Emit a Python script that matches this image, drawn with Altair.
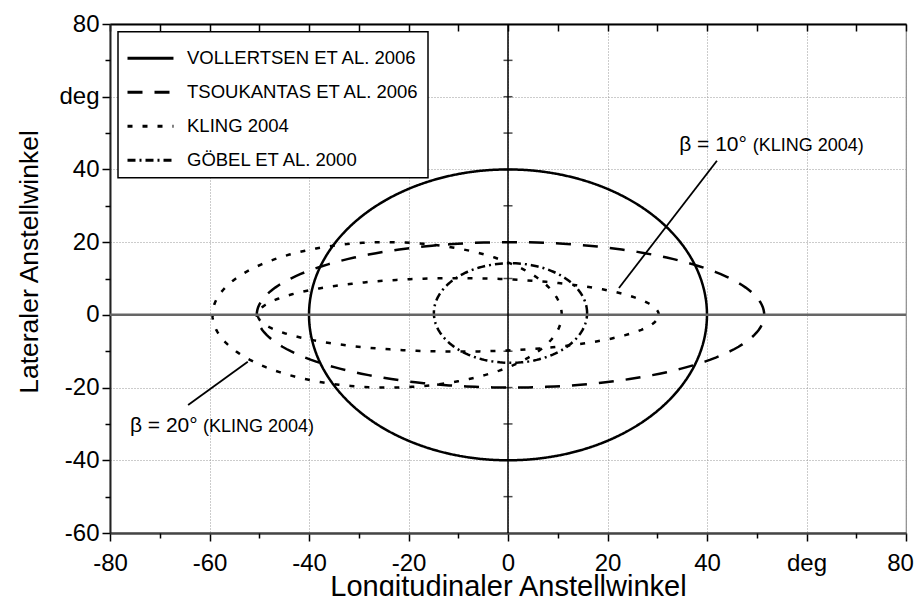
import altair as alt
import pandas as pd

FONT = "Liberation Sans"

# ---- ellipse parameters ----
curve_ids = ["vollertsen", "tsoukantas", "kling_b20", "kling_b10", "goebel"]
curve_series = ["VOLLERTSEN ET AL. 2006", "TSOUKANTAS ET AL. 2006",
                "KLING 2004", "KLING 2004", "GÖBEL ET AL. 2000"]
center_x = [0.0, 0.5, -24.3, -10.0, 0.5]
center_y = [0.0, 0.0, 0.0, 0.0, 0.5]
semi_x = [40.0, 51.0, 35.1, 40.3, 15.4]
semi_y = [40.0, 20.0, 20.0, 10.1, 13.7]

series_order = ["VOLLERTSEN ET AL. 2006", "TSOUKANTAS ET AL. 2006",
                "KLING 2004", "GÖBEL ET AL. 2000"]
dash_styles = [[1, 0], [15, 12], [5, 10], [8, 4, 2, 4]]

# ---- ticks ----
x_major = [-80, -60, -40, -20, 0, 20, 40, 60, 80]
y_major = [-60, -40, -20, 0, 20, 40, 60, 80]
x_minor = [-70, -50, -30, -10, 10, 30, 50, 70]
y_minor = [-50, -30, -10, 10, 30, 50, 70]
x_top_ticks = [-80, -70, -60, -50, -40, -30, -20, -10, 0, 10, 20, 30, 40, 50, 60, 70, 80]
center_cross_y = [-50, -40, -30, -20, -10, 10, 20, 30, 40, 50, 60, 70]

# ---- annotations ----
ann_big_text = ["β = 10°", "β = 20°"]
ann_small_text = ["(KLING 2004)", "(KLING 2004)"]
ann_big_x = [34.4, -76.0]
ann_small_x = [49.2, -61.3]
ann_y = [45.2, -32.2]
pointer_x = [42.0, -52.3]
pointer_y = [42.4, -12.9]
pointer_x2 = [22.3, -64.3]
pointer_y2 = [7.4, -24.8]

angles = list(range(0, 361, 2))

rows = []
for cid, s, cx, cy, a, b in zip(curve_ids, curve_series, center_x, center_y, semi_x, semi_y):
    for t in angles:
        rows.append({"curve": cid, "series": s, "cx": cx, "cy": cy, "rx": a, "ry": b, "t": t})
ell_df = pd.DataFrame(rows)

W, H = 796, 509
xs = alt.Scale(domain=[-80, 80], nice=False, zero=False)
ys = alt.Scale(domain=[-60, 80], nice=False, zero=False)

x_main = alt.Axis(orient="bottom", values=x_major,
                  labelExpr="datum.value == 60 ? 'deg' : '' + datum.value",
                  labelFlush=False, labelOverlap=False, labelFont=FONT, labelFontSize=24,
                  labelColor="black", labelPadding=10.5,
                  labelOffset={"condition": {"test": "datum.value == 80", "value": -6}, "value": 0},
                  tickSize=8, tickWidth=1.5, tickColor="black",
                  domainColor="#444", domainWidth=2.5,
                  grid=True, gridDash=[1, 2], gridColor="#999", gridWidth=1,
                  title="Longitudinaler Anstellwinkel", titleFont=FONT, titleFontSize=29,
                  titleFontWeight="normal", titleColor="black",
                  titleY=62.5, titleBaseline="alphabetic")
y_main = alt.Axis(orient="left", values=y_major,
                  labelExpr="datum.value == 60 ? 'deg' : '' + datum.value",
                  labelFlush=False, labelOverlap=False, labelFont=FONT, labelFontSize=24,
                  labelColor="black", labelPadding=3,
                  tickSize=8, tickWidth=1.5, tickColor="black",
                  domainColor="#222", domainWidth=2,
                  grid=True, gridDash=[1, 2], gridColor="#999", gridWidth=1,
                  title="Lateraler Anstellwinkel", titleFont=FONT, titleFontSize=26.5,
                  titleFontWeight="normal", titleColor="black",
                  titleX=-73, titleY=237.5, titleAngle=270, titleAlign="center",
                  titleBaseline="alphabetic")
x_minor_axis = alt.Axis(orient="bottom", values=x_minor, labels=False, tickSize=5,
                        tickWidth=1.5, tickColor="black", domain=False, grid=False, title=None)
y_minor_axis = alt.Axis(orient="left", values=y_minor, labels=False, tickSize=5,
                        tickWidth=1.5, tickColor="black", domain=False, grid=False, title=None)
x_top_axis = alt.Axis(orient="bottom", offset=-H, values=x_top_ticks, labels=False, tickSize=7,
                      tickWidth=1.5, tickColor="black", domainColor="black", domainWidth=2,
                      grid=False, title=None)

legend = alt.Legend(title=" ", titleFontSize=2, titlePadding=4,
                    orient="none", legendX=8, legendY=7.7,
                    symbolType="M-1,0L3.18,0", symbolSize=484, symbolStrokeWidth=3,
                    symbolStrokeColor="black", symbolFillColor="transparent",
                    labelFont=FONT, labelFontSize=18.5, labelColor="black",
                    labelOffset=36, labelLimit=400, rowPadding=12, padding=8,
                    fillColor="white", strokeColor="black", cornerRadius=0)

ellipses = alt.Chart(ell_df).transform_calculate(
    px="datum.cx + datum.rx * cos(datum.t * PI / 180)",
    py="datum.cy + datum.ry * sin(datum.t * PI / 180)",
).mark_line(color="black", strokeWidth=2.5).encode(
    x=alt.X("px:Q", scale=xs, axis=x_main),
    y=alt.Y("py:Q", scale=ys, axis=y_main),
    strokeDash=alt.StrokeDash("series:N", scale=alt.Scale(domain=series_order, range=dash_styles),
                              legend=legend),
    detail="curve:N",
    order="t:Q",
)

hline = alt.Chart(pd.DataFrame({"v": [0]})).mark_rule(stroke="#666", strokeWidth=2.5).encode(
    y=alt.Y("v:Q", scale=ys, axis=y_minor_axis))
vline = alt.Chart(pd.DataFrame({"v": [0]})).mark_rule(stroke="black", strokeWidth=1.5).encode(
    x=alt.X("v:Q", scale=xs, axis=x_minor_axis))

cross = alt.Chart(pd.DataFrame({"cx": [0] * len(center_cross_y), "cy": center_cross_y})).mark_tick(
    orient="horizontal", size=9, thickness=1.5, color="black").encode(
    x=alt.X("cx:Q", scale=xs, axis=x_top_axis),
    y=alt.Y("cy:Q", scale=ys, axis=None))

ptr_df = pd.DataFrame({"x": pointer_x, "y": pointer_y, "x2": pointer_x2, "y2": pointer_y2})
pointers = alt.Chart(ptr_df).mark_rule(color="black", strokeWidth=1.8).encode(
    x=alt.X("x:Q", scale=xs, axis=None), y=alt.Y("y:Q", scale=ys, axis=None),
    x2="x2:Q", y2="y2:Q")

big_df = pd.DataFrame({"x": ann_big_x, "y": ann_y, "t": ann_big_text})
small_df = pd.DataFrame({"x": ann_small_x, "y": ann_y, "t": ann_small_text})
big_txt = alt.Chart(big_df).mark_text(align="left", baseline="alphabetic", font=FONT,
                                      fontSize=21, color="black").encode(
    x=alt.X("x:Q", scale=xs, axis=None), y=alt.Y("y:Q", scale=ys, axis=None), text="t:N")
small_txt = alt.Chart(small_df).mark_text(align="left", baseline="alphabetic", font=FONT,
                                          fontSize=18, color="black").encode(
    x=alt.X("x:Q", scale=xs, axis=None), y=alt.Y("y:Q", scale=ys, axis=None), text="t:N")

chart = alt.layer(ellipses, hline, vline, cross, pointers, big_txt, small_txt).resolve_axis(
    x="independent", y="independent"
).properties(
    width=W, height=H, autosize="none",
    padding={"left": 102, "top": 16, "right": 8, "bottom": 63},
).configure_view(stroke="#888", strokeWidth=1.2).configure_legend(strokeWidth=1.5)

chart.save("out.html", embed_options={"renderer": "svg", "actions": False})
